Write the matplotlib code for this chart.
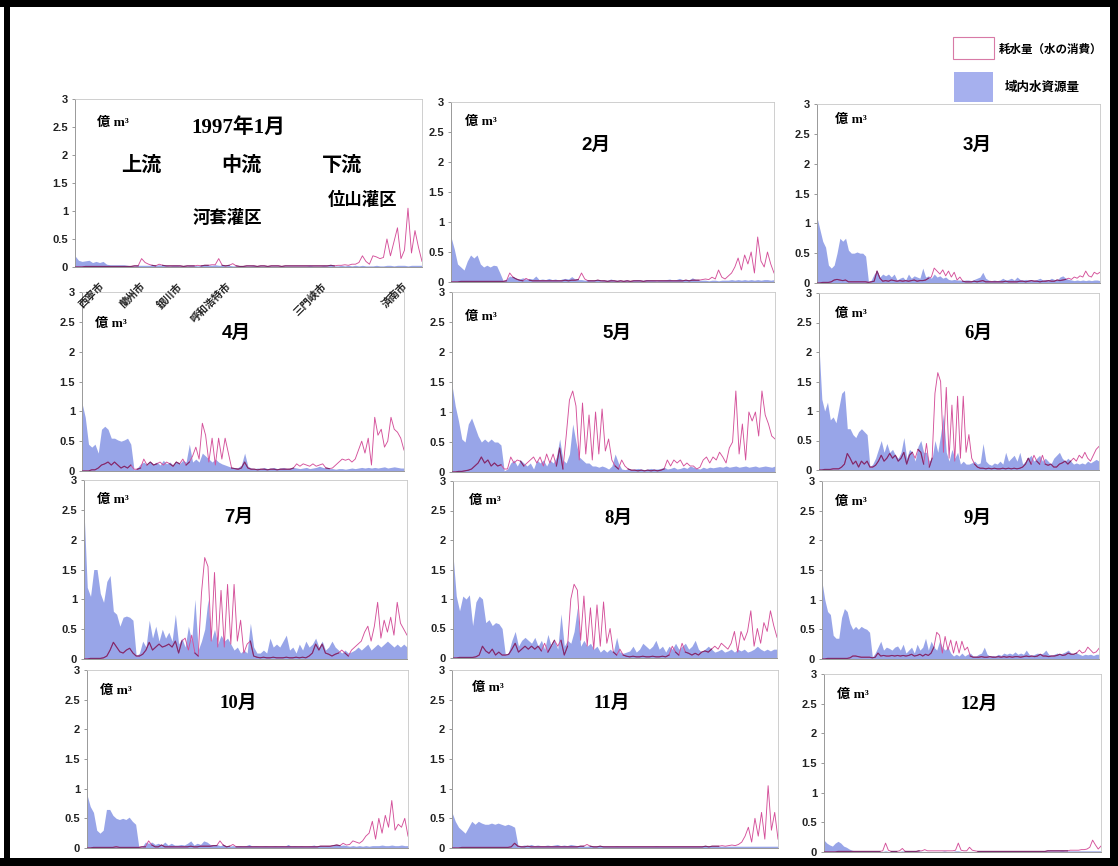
import matplotlib.pyplot as plt
import numpy as np
from matplotlib.patches import Rectangle

# --- data: water resources (blue) and consumption (pink) along the river, per month ---
JAN_BLUE = [0.20, 0.12, 0.10, 0.11, 0.12, 0.08, 0.10, 0.08, 0.10, 0.05,
            0.04, 0.04, 0.04, 0.04, 0.04, 0.03, 0.02, 0.02, 0.03, 0.03,
            0.03, 0.03, 0.04, 0.03, 0.04, 0.03, 0.03, 0.02, 0.03, 0.03,
            0.02, 0.03, 0.02, 0.03, 0.03, 0.02, 0.03, 0.03, 0.04, 0.03,
            0.04, 0.03, 0.03, 0.02, 0.03, 0.02, 0.02, 0.02, 0.02, 0.02,
            0.02, 0.03, 0.02, 0.02, 0.02, 0.02, 0.02, 0.02, 0.02, 0.02,
            0.02, 0.02, 0.02, 0.02, 0.02, 0.02, 0.02, 0.03, 0.02, 0.02,
            0.02, 0.03, 0.02, 0.03, 0.02, 0.02, 0.03, 0.02, 0.03, 0.02,
            0.03, 0.02, 0.03, 0.02, 0.02, 0.02, 0.03, 0.02, 0.02, 0.03,
            0.03, 0.02, 0.03, 0.03, 0.03, 0.02, 0.03, 0.03, 0.03, 0.03]
JAN_PINK = [0.00, 0.00, 0.00, 0.01, 0.01, 0.01, 0.01, 0.01, 0.01, 0.01,
            0.01, 0.01, 0.01, 0.01, 0.01, 0.01, 0.01, 0.02, 0.02, 0.15,
            0.08, 0.05, 0.03, 0.02, 0.05, 0.03, 0.02, 0.02, 0.02, 0.02,
            0.02, 0.01, 0.02, 0.02, 0.02, 0.03, 0.02, 0.03, 0.03, 0.04,
            0.04, 0.15, 0.03, 0.02, 0.03, 0.06, 0.02, 0.01, 0.01, 0.02,
            0.02, 0.02, 0.01, 0.02, 0.02, 0.01, 0.02, 0.02, 0.02, 0.01,
            0.02, 0.02, 0.02, 0.02, 0.02, 0.02, 0.02, 0.02, 0.02, 0.02,
            0.02, 0.02, 0.02, 0.03, 0.02, 0.03, 0.03, 0.04, 0.03, 0.05,
            0.05, 0.08, 0.20, 0.10, 0.05, 0.20, 0.18, 0.15, 0.17, 0.50,
            0.20, 0.45, 0.70, 0.15, 0.30, 1.05, 0.25, 0.65, 0.35, 0.10]
FEB_BLUE = [0.75, 0.55, 0.30, 0.25, 0.20, 0.35, 0.45, 0.40, 0.45, 0.30,
            0.25, 0.28, 0.25, 0.28, 0.27, 0.15, 0.02, 0.05, 0.10, 0.08,
            0.06, 0.05, 0.07, 0.05, 0.06, 0.05, 0.10, 0.04, 0.05, 0.04,
            0.06, 0.04, 0.05, 0.03, 0.05, 0.06, 0.05, 0.09, 0.05, 0.04,
            0.04, 0.03, 0.04, 0.03, 0.03, 0.03, 0.02, 0.03, 0.03, 0.05,
            0.03, 0.03, 0.02, 0.03, 0.03, 0.02, 0.03, 0.04, 0.03, 0.03,
            0.04, 0.03, 0.03, 0.02, 0.03, 0.03, 0.04, 0.05, 0.03, 0.04,
            0.06, 0.04, 0.03, 0.04, 0.07, 0.04, 0.03, 0.03, 0.03, 0.02,
            0.03, 0.03, 0.02, 0.03, 0.03, 0.03, 0.04, 0.03, 0.04, 0.03,
            0.04, 0.03, 0.04, 0.03, 0.04, 0.03, 0.04, 0.04, 0.03, 0.04]
FEB_PINK = [0.00, 0.00, 0.00, 0.01, 0.01, 0.01, 0.01, 0.01, 0.01, 0.01,
            0.01, 0.01, 0.01, 0.01, 0.01, 0.01, 0.01, 0.02, 0.15, 0.08,
            0.05, 0.03, 0.02, 0.06, 0.03, 0.02, 0.02, 0.02, 0.02, 0.02,
            0.02, 0.02, 0.02, 0.02, 0.02, 0.03, 0.02, 0.03, 0.03, 0.04,
            0.15, 0.05, 0.02, 0.02, 0.02, 0.03, 0.02, 0.02, 0.01, 0.02,
            0.02, 0.01, 0.02, 0.01, 0.02, 0.01, 0.02, 0.02, 0.02, 0.01,
            0.02, 0.02, 0.02, 0.02, 0.02, 0.02, 0.02, 0.02, 0.02, 0.02,
            0.02, 0.02, 0.03, 0.02, 0.03, 0.03, 0.03, 0.04, 0.05, 0.04,
            0.08, 0.05, 0.20, 0.08, 0.05, 0.10, 0.15, 0.25, 0.40, 0.20,
            0.45, 0.30, 0.50, 0.15, 0.75, 0.35, 0.25, 0.50, 0.30, 0.15]
MAR_BLUE = [1.10, 0.90, 0.70, 0.60, 0.30, 0.25, 0.30, 0.50, 0.75, 0.70,
            0.75, 0.55, 0.50, 0.50, 0.52, 0.50, 0.50, 0.45, 0.02, 0.05,
            0.15, 0.20, 0.10, 0.15, 0.12, 0.15, 0.10, 0.15, 0.05, 0.08,
            0.10, 0.05, 0.15, 0.08, 0.12, 0.10, 0.08, 0.25, 0.10, 0.12,
            0.08, 0.15, 0.10, 0.12, 0.08, 0.10, 0.06, 0.05, 0.06, 0.05,
            0.05, 0.04, 0.05, 0.05, 0.04, 0.06, 0.08, 0.10, 0.18, 0.08,
            0.05, 0.04, 0.05, 0.04, 0.05, 0.08, 0.05, 0.06, 0.08, 0.05,
            0.10, 0.06, 0.05, 0.06, 0.05, 0.04, 0.05, 0.06, 0.08, 0.05,
            0.06, 0.05, 0.08, 0.06, 0.05, 0.10, 0.12, 0.08, 0.06, 0.05,
            0.04, 0.05, 0.04, 0.05, 0.04, 0.05, 0.04, 0.05, 0.05, 0.04]
MAR_PINK = [0.00, 0.00, 0.01, 0.01, 0.01, 0.02, 0.05, 0.06, 0.05, 0.04,
            0.05, 0.02, 0.02, 0.02, 0.02, 0.02, 0.02, 0.02, 0.01, 0.02,
            0.03, 0.20, 0.08, 0.03, 0.04, 0.03, 0.05, 0.04, 0.03, 0.04,
            0.03, 0.04, 0.03, 0.04, 0.05, 0.03, 0.04, 0.04, 0.05, 0.08,
            0.10, 0.25, 0.20, 0.15, 0.22, 0.12, 0.20, 0.10, 0.18, 0.05,
            0.10, 0.03, 0.02, 0.02, 0.02, 0.03, 0.02, 0.03, 0.04, 0.02,
            0.02, 0.02, 0.02, 0.02, 0.02, 0.02, 0.03, 0.02, 0.02, 0.02,
            0.02, 0.03, 0.03, 0.02, 0.03, 0.04, 0.03, 0.03, 0.02, 0.03,
            0.03, 0.04, 0.03, 0.03, 0.05, 0.04, 0.05, 0.06, 0.08, 0.06,
            0.10, 0.08, 0.12, 0.10, 0.20, 0.12, 0.10, 0.18, 0.15, 0.18]
APR_BLUE = [1.14, 0.90, 0.45, 0.40, 0.45, 0.30, 0.70, 0.75, 0.70, 0.55,
            0.55, 0.52, 0.50, 0.52, 0.55, 0.45, 0.02, 0.05, 0.12, 0.15,
            0.10, 0.15, 0.12, 0.15, 0.10, 0.18, 0.12, 0.15, 0.10, 0.15,
            0.12, 0.18, 0.15, 0.45, 0.15, 0.20, 0.15, 0.30, 0.25, 0.20,
            0.15, 0.20, 0.15, 0.12, 0.10, 0.08, 0.06, 0.05, 0.06, 0.10,
            0.30, 0.08, 0.05, 0.04, 0.05, 0.04, 0.06, 0.04, 0.05, 0.06,
            0.04, 0.05, 0.06, 0.04, 0.05, 0.06, 0.05, 0.04, 0.05, 0.06,
            0.04, 0.05, 0.06, 0.08, 0.06, 0.05, 0.04, 0.04, 0.03, 0.04,
            0.04, 0.03, 0.04, 0.05, 0.04, 0.05, 0.06, 0.05, 0.06, 0.05,
            0.06, 0.05, 0.06, 0.07, 0.05, 0.06, 0.07, 0.06, 0.05, 0.05]
APR_PINK = [0.00, 0.00, 0.00, 0.02, 0.02, 0.05, 0.10, 0.12, 0.15, 0.10,
            0.15, 0.10, 0.05, 0.08, 0.05, 0.10, 0.03, 0.03, 0.05, 0.20,
            0.10, 0.15, 0.10, 0.12, 0.15, 0.10, 0.15, 0.12, 0.08, 0.15,
            0.12, 0.20, 0.10, 0.15, 0.25, 0.40, 0.20, 0.80, 0.60, 0.15,
            0.55, 0.10, 0.55, 0.20, 0.55, 0.30, 0.05, 0.04, 0.03, 0.05,
            0.15, 0.05, 0.03, 0.03, 0.02, 0.03, 0.03, 0.02, 0.03, 0.03,
            0.02, 0.03, 0.03, 0.03, 0.03, 0.05, 0.12, 0.08, 0.12, 0.10,
            0.08, 0.12, 0.08, 0.10, 0.12, 0.05, 0.04, 0.05, 0.10, 0.15,
            0.20, 0.18, 0.20, 0.15, 0.20, 0.35, 0.50, 0.30, 0.55, 0.10,
            0.90, 0.60, 0.70, 0.40, 0.50, 0.90, 0.70, 0.65, 0.55, 0.35]
MAY_BLUE = [1.45, 1.10, 0.85, 0.55, 0.50, 0.80, 0.90, 0.75, 0.60, 0.50,
            0.55, 0.50, 0.55, 0.50, 0.50, 0.45, 0.02, 0.05, 0.15, 0.20,
            0.10, 0.20, 0.15, 0.10, 0.15, 0.05, 0.20, 0.15, 0.20, 0.10,
            0.20, 0.15, 0.25, 0.55, 0.20, 0.15, 0.30, 0.80, 0.50, 0.25,
            0.20, 0.15, 0.15, 0.10, 0.10, 0.08, 0.10, 0.08, 0.05, 0.10,
            0.30, 0.15, 0.05, 0.04, 0.05, 0.04, 0.05, 0.06, 0.05, 0.04,
            0.05, 0.06, 0.05, 0.05, 0.06, 0.08, 0.05, 0.06, 0.08, 0.05,
            0.06, 0.08, 0.06, 0.10, 0.08, 0.06, 0.05, 0.08, 0.06, 0.08,
            0.07, 0.08, 0.09, 0.08, 0.10, 0.08, 0.09, 0.10, 0.08, 0.09,
            0.10, 0.08, 0.09, 0.10, 0.08, 0.09, 0.10, 0.09, 0.08, 0.10]
MAY_PINK = [0.00, 0.00, 0.01, 0.01, 0.02, 0.03, 0.05, 0.10, 0.15, 0.25,
            0.15, 0.20, 0.10, 0.15, 0.10, 0.12, 0.05, 0.05, 0.25, 0.15,
            0.20, 0.18, 0.10, 0.15, 0.20, 0.25, 0.15, 0.25, 0.10, 0.30,
            0.15, 0.30, 0.10, 0.40, 0.05, 0.60, 1.20, 1.35, 1.10, 0.20,
            1.15, 0.30, 0.95, 0.20, 1.00, 0.30, 1.05, 0.35, 0.55, 0.20,
            0.10, 0.05, 0.20, 0.10, 0.05, 0.03, 0.03, 0.02, 0.03, 0.02,
            0.03, 0.02, 0.03, 0.02, 0.03, 0.05, 0.20, 0.10, 0.20, 0.15,
            0.20, 0.10, 0.15, 0.10, 0.10, 0.05, 0.08, 0.20, 0.25, 0.15,
            0.25, 0.20, 0.33, 0.25, 0.15, 0.40, 0.50, 1.35, 0.30, 0.80,
            0.20, 1.00, 0.85, 1.00, 0.60, 1.35, 0.95, 0.80, 0.60, 0.55]
JUN_BLUE = [2.10, 1.20, 1.00, 1.15, 0.85, 0.90, 0.80, 1.05, 1.30, 1.35,
            0.70, 0.70, 0.60, 0.55, 0.65, 0.70, 0.65, 0.60, 0.05, 0.10,
            0.20, 0.35, 0.50, 0.30, 0.45, 0.30, 0.35, 0.25, 0.20, 0.30,
            0.55, 0.20, 0.35, 0.30, 0.15, 0.40, 0.50, 0.30, 0.30, 0.15,
            0.20, 0.50, 0.30, 0.60, 0.95, 0.30, 0.15, 0.35, 0.20, 0.30,
            0.10, 0.15, 0.10, 0.10, 0.12, 0.15, 0.10, 0.12, 0.45, 0.15,
            0.10, 0.08, 0.12, 0.10, 0.15, 0.10, 0.30, 0.15, 0.20, 0.25,
            0.15, 0.30, 0.10, 0.15, 0.20, 0.25, 0.15, 0.20, 0.25, 0.15,
            0.20, 0.15, 0.10, 0.20, 0.25, 0.30, 0.20, 0.15, 0.20, 0.15,
            0.10, 0.12, 0.10, 0.12, 0.10, 0.15, 0.12, 0.15, 0.18, 0.15]
JUN_PINK = [0.00, 0.00, 0.01, 0.01, 0.01, 0.02, 0.02, 0.02, 0.05, 0.10,
            0.28, 0.20, 0.10, 0.15, 0.05, 0.15, 0.10, 0.15, 0.05, 0.05,
            0.08, 0.15, 0.25, 0.15, 0.20, 0.28, 0.20, 0.25, 0.15, 0.20,
            0.30, 0.10, 0.25, 0.30, 0.20, 0.35, 0.30, 0.10, 0.45, 0.05,
            0.20, 1.30, 1.65, 1.50, 0.30, 1.40, 0.20, 1.10, 0.15, 1.25,
            0.20, 1.25, 0.30, 0.60, 0.20, 0.10, 0.05, 0.03, 0.03, 0.02,
            0.03, 0.02, 0.03, 0.02, 0.02, 0.03, 0.02, 0.03, 0.02, 0.03,
            0.02, 0.03, 0.05, 0.10, 0.20, 0.10, 0.25, 0.15, 0.10, 0.25,
            0.10, 0.08, 0.10, 0.05, 0.05, 0.10, 0.12, 0.15, 0.10, 0.15,
            0.20, 0.15, 0.25, 0.20, 0.30, 0.20, 0.15, 0.25, 0.35, 0.40]
JUL_BLUE = [2.50, 1.20, 1.05, 1.50, 1.50, 1.10, 0.95, 1.30, 1.40, 0.80,
            0.75, 0.55, 0.70, 0.72, 0.70, 0.65, 0.05, 0.10, 0.30, 0.20,
            0.65, 0.35, 0.55, 0.30, 0.50, 0.35, 0.45, 0.30, 0.75, 0.25,
            0.35, 0.20, 0.55, 0.30, 1.00, 0.15, 0.30, 0.50, 1.00, 0.30,
            0.50, 0.25, 0.40, 0.30, 0.35, 0.25, 0.15, 0.20, 0.10, 0.15,
            0.10, 0.60, 0.20, 0.10, 0.10, 0.15, 0.10, 0.35, 0.20, 0.25,
            0.20, 0.30, 0.40, 0.15, 0.20, 0.10, 0.25, 0.15, 0.30, 0.20,
            0.25, 0.35, 0.20, 0.30, 0.15, 0.20, 0.30, 0.20, 0.15, 0.10,
            0.15, 0.10, 0.12, 0.15, 0.20, 0.15, 0.20, 0.25, 0.15, 0.20,
            0.25, 0.20, 0.25, 0.30, 0.25, 0.20, 0.25, 0.20, 0.25, 0.20]
JUL_PINK = [0.00, 0.00, 0.01, 0.01, 0.01, 0.01, 0.02, 0.05, 0.15, 0.28,
            0.20, 0.12, 0.10, 0.15, 0.18, 0.10, 0.05, 0.05, 0.08, 0.15,
            0.28, 0.15, 0.20, 0.25, 0.20, 0.22, 0.25, 0.20, 0.30, 0.10,
            0.30, 0.35, 0.15, 0.40, 0.10, 0.05, 1.10, 1.70, 1.55, 0.30,
            1.45, 0.20, 1.15, 0.20, 1.25, 0.25, 1.25, 0.30, 0.65, 0.10,
            0.25, 0.30, 0.05, 0.03, 0.02, 0.03, 0.02, 0.02, 0.03, 0.02,
            0.02, 0.02, 0.03, 0.02, 0.02, 0.03, 0.02, 0.03, 0.02, 0.05,
            0.10, 0.25, 0.15, 0.25, 0.10, 0.08, 0.05, 0.08, 0.10, 0.15,
            0.10, 0.05, 0.15, 0.20, 0.25, 0.30, 0.45, 0.55, 0.30, 0.55,
            0.95, 0.35, 0.65, 0.45, 0.70, 0.40, 0.95, 0.60, 0.50, 0.40]
AUG_BLUE = [1.75, 1.05, 0.80, 1.05, 1.00, 1.07, 0.55, 0.95, 1.05, 1.00,
            0.60, 0.65, 0.55, 0.60, 0.58, 0.50, 0.05, 0.10, 0.30, 0.45,
            0.20, 0.30, 0.35, 0.30, 0.25, 0.35, 0.20, 0.30, 0.15, 0.40,
            0.20, 0.30, 0.15, 0.75, 0.20, 0.30, 0.25, 0.45, 0.85, 0.20,
            0.30, 0.20, 0.25, 0.15, 0.20, 0.10, 0.15, 0.10, 0.15, 0.10,
            0.35, 0.10, 0.08, 0.10, 0.12, 0.20, 0.10, 0.15, 0.25, 0.20,
            0.15, 0.20, 0.30, 0.15, 0.20, 0.10, 0.20, 0.15, 0.25, 0.15,
            0.20, 0.25, 0.15, 0.20, 0.30, 0.15, 0.10, 0.15, 0.20, 0.15,
            0.10, 0.12, 0.15, 0.10, 0.12, 0.15, 0.10, 0.15, 0.12, 0.15,
            0.10, 0.12, 0.15, 0.20, 0.15, 0.12, 0.15, 0.12, 0.15, 0.15]
AUG_PINK = [0.00, 0.00, 0.01, 0.01, 0.01, 0.01, 0.01, 0.02, 0.05, 0.20,
            0.12, 0.08, 0.15, 0.05, 0.10, 0.05, 0.05, 0.06, 0.15, 0.25,
            0.10, 0.15, 0.20, 0.15, 0.20, 0.15, 0.20, 0.12, 0.25, 0.10,
            0.20, 0.30, 0.20, 0.30, 0.05, 0.20, 1.00, 1.25, 1.15, 0.30,
            1.05, 0.20, 0.85, 0.15, 0.90, 0.20, 0.95, 0.25, 0.50, 0.10,
            0.05, 0.15, 0.05, 0.03, 0.02, 0.03, 0.02, 0.02, 0.03, 0.02,
            0.02, 0.03, 0.02, 0.02, 0.03, 0.02, 0.05, 0.20, 0.10, 0.05,
            0.25, 0.10, 0.08, 0.05, 0.08, 0.05, 0.10, 0.12, 0.10, 0.15,
            0.20, 0.15, 0.25, 0.20, 0.15, 0.25, 0.45, 0.10, 0.45, 0.30,
            0.45, 0.80, 0.20, 0.50, 0.25, 0.60, 0.45, 0.80, 0.55, 0.35]
SEP_BLUE = [1.30, 1.00, 0.80, 0.75, 0.40, 0.35, 0.35, 0.70, 0.85, 0.80,
            0.60, 0.50, 0.55, 0.50, 0.55, 0.52, 0.50, 0.45, 0.03, 0.10,
            0.20, 0.30, 0.15, 0.20, 0.18, 0.15, 0.20, 0.22, 0.15, 0.25,
            0.10, 0.15, 0.20, 0.10, 0.25, 0.15, 0.20, 0.35, 0.15, 0.30,
            0.20, 0.15, 0.30, 0.20, 0.15, 0.20, 0.10, 0.05, 0.08, 0.05,
            0.10, 0.05, 0.08, 0.10, 0.05, 0.05, 0.08, 0.10, 0.20, 0.08,
            0.05, 0.06, 0.05, 0.08, 0.06, 0.10, 0.08, 0.10, 0.08, 0.12,
            0.08, 0.10, 0.08, 0.15, 0.08, 0.06, 0.08, 0.10, 0.08, 0.10,
            0.15, 0.08, 0.06, 0.08, 0.10, 0.08, 0.10, 0.12, 0.15, 0.10,
            0.08, 0.10, 0.08, 0.06, 0.08, 0.07, 0.08, 0.06, 0.08, 0.08]
SEP_PINK = [0.00, 0.00, 0.01, 0.01, 0.01, 0.01, 0.01, 0.01, 0.01, 0.01,
            0.02, 0.05, 0.05, 0.04, 0.03, 0.03, 0.03, 0.03, 0.02, 0.03,
            0.10, 0.05, 0.06, 0.05, 0.05, 0.06, 0.05, 0.06, 0.05, 0.06,
            0.05, 0.06, 0.08, 0.05, 0.06, 0.08, 0.05, 0.08, 0.06, 0.10,
            0.20, 0.45, 0.40, 0.10, 0.38, 0.15, 0.32, 0.10, 0.30, 0.10,
            0.30, 0.15, 0.20, 0.05, 0.03, 0.03, 0.03, 0.04, 0.03, 0.03,
            0.04, 0.03, 0.03, 0.04, 0.03, 0.04, 0.03, 0.04, 0.03, 0.04,
            0.04, 0.03, 0.04, 0.05, 0.04, 0.05, 0.04, 0.05, 0.08, 0.05,
            0.05, 0.04, 0.05, 0.05, 0.06, 0.08, 0.06, 0.07, 0.10, 0.08,
            0.08, 0.10, 0.15, 0.10, 0.12, 0.20, 0.15, 0.10, 0.12, 0.18]
OCT_BLUE = [0.90, 0.70, 0.60, 0.30, 0.25, 0.30, 0.65, 0.65, 0.55, 0.50,
            0.48, 0.50, 0.48, 0.52, 0.45, 0.40, 0.01, 0.02, 0.10, 0.08,
            0.10, 0.06, 0.08, 0.05, 0.10, 0.05, 0.08, 0.05, 0.05, 0.06,
            0.05, 0.08, 0.12, 0.05, 0.08, 0.06, 0.12, 0.10, 0.06, 0.05,
            0.06, 0.04, 0.05, 0.04, 0.03, 0.04, 0.03, 0.04, 0.03, 0.04,
            0.06, 0.03, 0.04, 0.03, 0.03, 0.04, 0.03, 0.03, 0.04, 0.03,
            0.04, 0.03, 0.06, 0.03, 0.04, 0.03, 0.04, 0.03, 0.03, 0.04,
            0.05, 0.03, 0.04, 0.03, 0.04, 0.03, 0.04, 0.06, 0.04, 0.05,
            0.04, 0.03, 0.04, 0.03, 0.04, 0.03, 0.04, 0.03, 0.04, 0.04,
            0.04, 0.05, 0.04, 0.04, 0.05, 0.04, 0.04, 0.05, 0.04, 0.04]
OCT_PINK = [0.00, 0.00, 0.01, 0.01, 0.01, 0.01, 0.01, 0.01, 0.01, 0.02,
            0.01, 0.01, 0.01, 0.01, 0.01, 0.01, 0.01, 0.02, 0.02, 0.12,
            0.05, 0.02, 0.02, 0.05, 0.02, 0.02, 0.02, 0.02, 0.02, 0.02,
            0.02, 0.02, 0.03, 0.02, 0.02, 0.03, 0.03, 0.03, 0.03, 0.04,
            0.04, 0.12, 0.05, 0.02, 0.03, 0.06, 0.02, 0.02, 0.02, 0.02,
            0.02, 0.02, 0.02, 0.02, 0.02, 0.02, 0.02, 0.02, 0.02, 0.02,
            0.02, 0.02, 0.02, 0.02, 0.02, 0.02, 0.02, 0.02, 0.02, 0.02,
            0.02, 0.02, 0.03, 0.03, 0.03, 0.03, 0.04, 0.05, 0.04, 0.08,
            0.05, 0.06, 0.12, 0.10, 0.08, 0.12, 0.20, 0.25, 0.45, 0.15,
            0.50, 0.25, 0.55, 0.35, 0.80, 0.30, 0.40, 0.35, 0.50, 0.20]
NOV_BLUE = [0.60, 0.45, 0.35, 0.30, 0.25, 0.35, 0.45, 0.40, 0.45, 0.42,
            0.40, 0.40, 0.42, 0.40, 0.42, 0.40, 0.38, 0.40, 0.38, 0.35,
            0.05, 0.04, 0.05, 0.04, 0.06, 0.04, 0.05, 0.04, 0.04, 0.05,
            0.04, 0.05, 0.06, 0.04, 0.05, 0.04, 0.06, 0.05, 0.04, 0.04,
            0.03, 0.03, 0.04, 0.03, 0.03, 0.03, 0.03, 0.03, 0.03, 0.03,
            0.04, 0.03, 0.03, 0.03, 0.03, 0.03, 0.03, 0.03, 0.03, 0.03,
            0.03, 0.03, 0.04, 0.03, 0.03, 0.03, 0.03, 0.03, 0.03, 0.03,
            0.03, 0.03, 0.03, 0.03, 0.03, 0.03, 0.03, 0.04, 0.03, 0.03,
            0.03, 0.03, 0.03, 0.03, 0.03, 0.03, 0.03, 0.03, 0.03, 0.03,
            0.03, 0.03, 0.03, 0.03, 0.03, 0.03, 0.03, 0.03, 0.03, 0.03]
NOV_PINK = [0.00, 0.00, 0.00, 0.01, 0.01, 0.01, 0.01, 0.01, 0.01, 0.01,
            0.01, 0.01, 0.01, 0.01, 0.01, 0.01, 0.01, 0.01, 0.02, 0.08,
            0.03, 0.02, 0.02, 0.03, 0.02, 0.02, 0.02, 0.02, 0.02, 0.02,
            0.02, 0.02, 0.02, 0.02, 0.02, 0.02, 0.02, 0.02, 0.02, 0.03,
            0.03, 0.06, 0.03, 0.02, 0.02, 0.03, 0.02, 0.02, 0.02, 0.02,
            0.02, 0.02, 0.02, 0.02, 0.02, 0.02, 0.02, 0.02, 0.02, 0.02,
            0.02, 0.02, 0.02, 0.02, 0.02, 0.02, 0.02, 0.02, 0.02, 0.02,
            0.02, 0.02, 0.02, 0.02, 0.02, 0.02, 0.02, 0.03, 0.02, 0.03,
            0.03, 0.03, 0.04, 0.03, 0.04, 0.05, 0.04, 0.06, 0.10, 0.20,
            0.35, 0.10, 0.50, 0.20, 0.60, 0.15, 1.05, 0.30, 0.60, 0.15]
DEC_BLUE = [0.20, 0.15, 0.12, 0.10, 0.15, 0.18, 0.15, 0.10, 0.08, 0.05,
            0.03, 0.02, 0.02, 0.02, 0.02, 0.01, 0.01, 0.01, 0.01, 0.01,
            0.01, 0.01, 0.02, 0.01, 0.01, 0.01, 0.01, 0.01, 0.02, 0.01,
            0.01, 0.01, 0.01, 0.01, 0.02, 0.01, 0.01, 0.01, 0.01, 0.01,
            0.01, 0.01, 0.01, 0.02, 0.01, 0.01, 0.01, 0.02, 0.02, 0.01,
            0.01, 0.01, 0.01, 0.01, 0.01, 0.01, 0.01, 0.01, 0.01, 0.01,
            0.01, 0.01, 0.01, 0.01, 0.01, 0.01, 0.01, 0.01, 0.01, 0.01,
            0.01, 0.01, 0.01, 0.01, 0.01, 0.02, 0.01, 0.01, 0.02, 0.02,
            0.02, 0.02, 0.02, 0.02, 0.02, 0.03, 0.02, 0.02, 0.02, 0.02,
            0.02, 0.02, 0.02, 0.02, 0.02, 0.02, 0.02, 0.02, 0.02, 0.02]
DEC_PINK = [0.00, 0.00, 0.00, 0.00, 0.00, 0.01, 0.01, 0.01, 0.01, 0.01,
            0.01, 0.01, 0.01, 0.01, 0.01, 0.01, 0.01, 0.01, 0.01, 0.01,
            0.01, 0.02, 0.15, 0.03, 0.01, 0.01, 0.01, 0.02, 0.06, 0.01,
            0.01, 0.01, 0.01, 0.01, 0.02, 0.02, 0.04, 0.02, 0.02, 0.02,
            0.02, 0.02, 0.02, 0.02, 0.02, 0.02, 0.02, 0.03, 0.15, 0.03,
            0.02, 0.02, 0.08, 0.03, 0.02, 0.01, 0.01, 0.01, 0.01, 0.01,
            0.01, 0.01, 0.01, 0.01, 0.01, 0.01, 0.01, 0.01, 0.01, 0.01,
            0.01, 0.01, 0.01, 0.01, 0.01, 0.01, 0.01, 0.01, 0.01, 0.01,
            0.02, 0.02, 0.02, 0.02, 0.02, 0.02, 0.02, 0.02, 0.03, 0.03,
            0.03, 0.03, 0.04, 0.04, 0.05, 0.08, 0.20, 0.12, 0.05, 0.10]

MONTHS = ["1997年1月", "2月", "3月", "4月", "5月", "6月",
          "7月", "8月", "9月", "10月", "11月", "12月"]
BLUES = [JAN_BLUE, FEB_BLUE, MAR_BLUE, APR_BLUE, MAY_BLUE, JUN_BLUE,
         JUL_BLUE, AUG_BLUE, SEP_BLUE, OCT_BLUE, NOV_BLUE, DEC_BLUE]
PINKS = [JAN_PINK, FEB_PINK, MAR_PINK, APR_PINK, MAY_PINK, JUN_PINK,
         JUL_PINK, AUG_PINK, SEP_PINK, OCT_PINK, NOV_PINK, DEC_PINK]
CITY_NAMES = ["西寧市", "蘭州市", "銀川市", "呼和浩特市", "三門峡市", "済南市"]
CITY_POS = [7, 18.5, 29, 43, 70, 93.3]
Y_TICKS = [0, 0.5, 1, 1.5, 2, 2.5, 3]
Y_LABELS = ["0", "0.5", "1", "1.5", "2", "2.5", "3"]

# --- layout (pixels of the 1118x866 picture) ---
W, H = 1118, 866
PANELS = [(75, 99, 422, 267), (451, 102, 774, 282), (817, 104, 1100, 283),
          (82, 292, 404, 471), (452, 292, 775, 472), (819, 293, 1099, 470),
          (84, 480, 407, 659), (453, 481, 777, 658), (822, 481, 1099, 659),
          (87, 670, 408, 848), (452, 670, 778, 848), (824, 674, 1101, 852)]
TITLE_POS = [(0.47, 0.83), (0.45, 0.76), (0.565, 0.77), (0.48, 0.77), (0.51, 0.77), (0.57, 0.77),
             (0.48, 0.79), (0.51, 0.79), (0.56, 0.79), (0.47, 0.81), (0.49, 0.81), (0.56, 0.83)]
UNIT_POS = [(0.063, 0.86), (0.043, 0.89), (0.064, 0.91), (0.04, 0.82), (0.04, 0.86), (0.057, 0.88),
            (0.04, 0.89), (0.05, 0.89), (0.047, 0.88), (0.04, 0.88), (0.06, 0.90), (0.047, 0.88)]
SERIF_TITLE = [True, False, False, False, False, True, False, True, True, True, True, True]

BLUE = "#98a5e8"
PINK = "#d4509a"
DARK = "#7a2c6c"
CJK = "Noto Sans CJK JP"
SERIF = ["Liberation Serif", CJK]
SANS = ["Liberation Sans", CJK]


def px_rect(x0, y0, x1, y1):
    return [x0 / W, 1 - y1 / H, (x1 - x0) / W, (y1 - y0) / H]


fig = plt.figure(figsize=(W / 100, H / 100), dpi=100)

for k in range(12):
    # the January panel carries the rotated city names, keep it above April
    ax = fig.add_axes(px_rect(*PANELS[k]), zorder=3 if k == 0 else 1)
    blue = np.array(BLUES[k])
    pink = np.array(PINKS[k])
    xb = np.arange(len(blue))
    xp = np.arange(len(pink))
    ax.fill_between(xb, 0, blue, color=BLUE, lw=0, zorder=1)
    ax.plot(xp, pink, color=PINK, lw=0.65, zorder=2)
    # consumption hidden inside the resource area shows darker
    n = min(len(blue), len(pink))
    inside = np.where(pink[:n] <= blue[:n], pink[:n], np.nan)
    ax.plot(xp[:n], inside, color=DARK, lw=0.8, zorder=3)

    ax.set_xlim(0, len(blue) - 1)
    ax.set_ylim(0, 3)
    ax.set_yticks(Y_TICKS)
    ax.set_yticklabels(Y_LABELS, family=SANS, fontweight="bold", fontsize=8, color="#222222")
    ax.tick_params(axis="y", length=2, width=0.6, pad=3, color="#888888")
    for side in ["left", "bottom"]:
        ax.spines[side].set_color("#999999")
        ax.spines[side].set_linewidth(0.7)
    for side in ["top", "right"]:
        ax.spines[side].set_color("#c8c8c8")
        ax.spines[side].set_linewidth(0.6)

    if k == 0:
        ax.patch.set_alpha(0)
        ax.set_xticks(CITY_POS)
        ax.set_xticklabels(CITY_NAMES, rotation=45, ha="right", va="top",
                           rotation_mode="anchor", family=CJK, fontweight="bold",
                           fontsize=7.5, color="#222222")
        ax.tick_params(axis="x", length=0, pad=10)
    else:
        ax.set_xticks([])

    tx, ty = TITLE_POS[k]
    ax.text(tx, ty, MONTHS[k], transform=ax.transAxes, ha="center", va="center",
            fontsize=15 if k == 0 else 13.5, fontweight="bold",
            family=SERIF if SERIF_TITLE[k] else SANS, zorder=5)
    ux, uy = UNIT_POS[k]
    ax.text(ux, uy, "億 m³", transform=ax.transAxes, ha="left", va="center",
            fontsize=9.5, fontweight="bold", family=SERIF, zorder=5)

    if k == 0:
        for label, fx, fy, size in [("上流", 0.19, 0.61, 14.5), ("中流", 0.48, 0.61, 14.5),
                                    ("下流", 0.77, 0.61, 14.5), ("河套灌区", 0.44, 0.29, 12.5),
                                    ("位山灌区", 0.83, 0.40, 12.5)]:
            ax.text(fx, fy, label, transform=ax.transAxes, ha="center", va="center",
                    fontsize=size, fontweight="bold", family=CJK, zorder=5)

# legend in the top right corner
lg = fig.add_axes(px_rect(940, 30, 1108, 110))
lg.set_xlim(940, 1108)
lg.set_ylim(110, 30)
lg.axis("off")
lg.add_patch(Rectangle((953, 37), 41, 22, facecolor="white", edgecolor="#d87aa6", lw=0.8))
lg.add_patch(Rectangle((954, 72), 39, 30, facecolor="#a6b0ee", edgecolor="none"))
lg.text(999, 49, "耗水量（水の消費）", va="center", ha="left", fontsize=8.3,
        fontweight="bold", family=CJK)
lg.text(1005, 87, "域内水資源量", va="center", ha="left", fontsize=9,
        fontweight="bold", family=CJK)

# black scan frame
bg = fig.add_axes([0, 0, 1, 1], zorder=10)
bg.set_xlim(0, W)
bg.set_ylim(H, 0)
bg.axis("off")
for x, y, w, h in [(4, 0, 6, H), (1110, 0, 8, H), (0, 858, W, 8), (0, 0, W, 7)]:
    bg.add_patch(Rectangle((x, y), w, h, facecolor="black", edgecolor="none"))

fig.savefig("out.png", dpi=100)
